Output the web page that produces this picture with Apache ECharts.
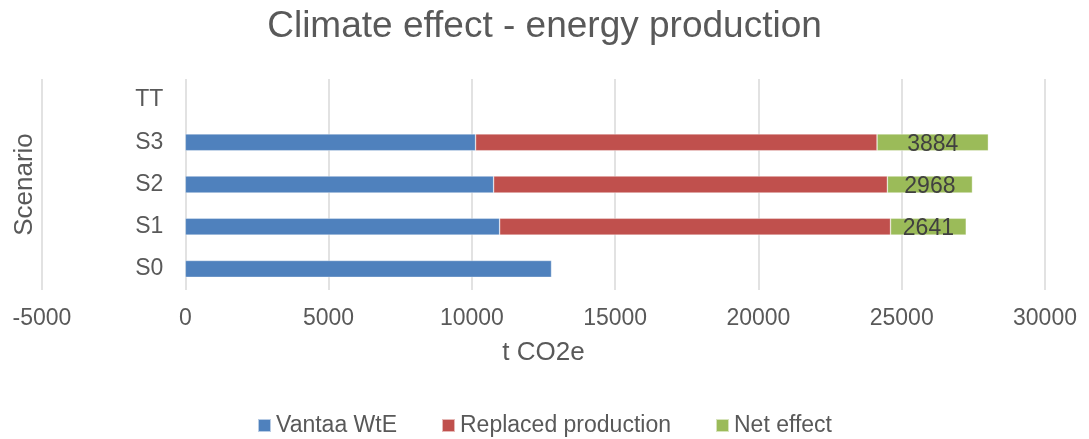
<!DOCTYPE html>
<html>
<head>
<meta charset="utf-8">
<script src="https://cdn.jsdelivr.net/npm/echarts@6/dist/echarts.min.js"></script>
<style>
  html, body { margin: 0; padding: 0; background: #fff; }
  #chart { width: 1089px; height: 439px; }
</style>
</head>
<body>
<div id="chart"></div>
<script>
// Scenarios, bottom to top
const scenarios = ['S0', 'S1', 'S2', 'S3', 'TT'];
// t CO2e per scenario
const vantaaWtE = [12780, 10970, 10760, 10130, null];
const replacedProduction = [null, 13640, 13740, 14010, null];
const netEffect = [null, 2641, 2968, 3884, null];
const xTicks = { min: -5000, max: 30000, interval: 5000 };

const FONT = '"Liberation Sans", Arial, sans-serif';
const TEXT = '#595959';

const GRID = { left: 42, right: 44, top: 79, bottom: 149 };
// pixel distance from the left grid edge to the zero line, so the category axis sits on x = 0
const plotWidth = 1089 - GRID.left - GRID.right;
const zeroOffset = plotWidth * (0 - xTicks.min) / (xTicks.max - xTicks.min);

const chart = echarts.init(document.getElementById('chart'), null, { renderer: 'canvas' });

const barBase = {
  type: 'bar',
  stack: 'total',
  barWidth: '40%',
  itemStyle: { borderColor: 'rgba(255,255,255,0.6)', borderWidth: 0.6 }
};

chart.setOption({
  animation: false,
  textStyle: { fontFamily: FONT },
  title: {
    text: 'Climate effect - energy production',
    left: 'center',
    top: 8,
    padding: 0,
    textStyle: { fontFamily: FONT, fontSize: 37, fontWeight: 'normal', color: TEXT }
  },
  legend: {
    top: 414,
    left: 'center',
    padding: 0,
    itemWidth: 13,
    itemHeight: 13,
    itemGap: 44,
    icon: 'rect',
    textStyle: { fontFamily: FONT, fontSize: 23, color: TEXT },
    data: ['Vantaa WtE', 'Replaced production', 'Net effect']
  },
  grid: Object.assign({ outerBoundsMode: 'none', containLabel: false }, GRID),
  xAxis: {
    type: 'value',
    min: xTicks.min,
    max: xTicks.max,
    interval: xTicks.interval,
    name: 't CO2e',
    nameLocation: 'middle',
    nameGap: 50,
    nameTextStyle: { fontFamily: FONT, fontSize: 26, color: TEXT },
    axisLine: { show: false },
    axisTick: { show: false },
    axisLabel: {
      fontFamily: FONT, fontSize: 23, color: TEXT, margin: 17,
      formatter: (v) => String(v)
    },
    splitLine: { show: true, lineStyle: { color: '#d9d9d9', width: 1.5 } }
  },
  yAxis: {
    type: 'category',
    data: scenarios,
    offset: -zeroOffset,
    name: 'Scenario',
    nameLocation: 'middle',
    nameGap: 147,
    nameRotate: 90,
    nameTextStyle: { fontFamily: FONT, fontSize: 26, color: TEXT },
    axisLine: { show: false, onZero: false },
    axisTick: { show: false },
    axisLabel: { fontFamily: FONT, fontSize: 23, color: TEXT, margin: 22 },
    splitLine: { show: false }
  },
  series: [
    Object.assign({}, barBase, {
      name: 'Vantaa WtE',
      data: vantaaWtE,
      itemStyle: Object.assign({}, barBase.itemStyle, { color: '#4f81bd' })
    }),
    Object.assign({}, barBase, {
      name: 'Replaced production',
      data: replacedProduction,
      itemStyle: Object.assign({}, barBase.itemStyle, { color: '#c0504d' })
    }),
    Object.assign({}, barBase, {
      name: 'Net effect',
      data: netEffect,
      itemStyle: Object.assign({}, barBase.itemStyle, { color: '#9bbb59' }),
      label: {
        show: true,
        position: 'inside',
        offset: [0, 2],
        fontFamily: FONT,
        fontSize: 23,
        color: '#404040'
      }
    })
  ]
});
</script>
</body>
</html>
